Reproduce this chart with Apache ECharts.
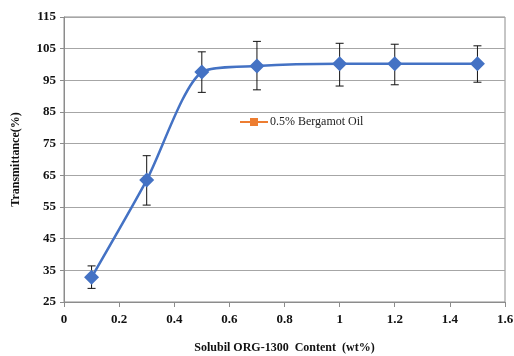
<!DOCTYPE html>
<html>
<head>
<meta charset="utf-8">
<script src="https://cdn.jsdelivr.net/npm/echarts@6/dist/echarts.min.js"></script>
<style>
  html, body { margin: 0; padding: 0; background: #fff; }
  #chart { width: 514px; height: 356px; }
</style>
</head>
<body>
<div id="chart"></div>
<script>
const contents = [0.1, 0.3, 0.5, 0.7, 1.0, 1.2, 1.5]
const transmittance = [32.8, 63.5, 97.6, 99.5, 100.2, 100.2, 100.2]
const errLow = [29.3, 55.6, 91.2, 92.0, 93.2, 93.6, 94.4]
const errHigh = [36.4, 71.2, 104.0, 107.3, 106.7, 106.4, 105.9]
const legendName = '0.5% Bergamot Oil'

const font = '"Liberation Serif", "Times New Roman", serif'
const chart = echarts.init(document.getElementById('chart'))

chart.setOption({
  animation: false,
  grid: {
    left: 64, right: 9, top: 17, bottom: 54,
    outerBoundsMode: 'none',
    show: true, borderColor: '#8c8c8c', borderWidth: 1
  },
  legend: {
    left: 234, top: 111,
    itemWidth: 28, itemHeight: 10,
    textStyle: { fontFamily: font, fontSize: 12, color: '#222', padding: [0, 0, 0, -3] },
    data: [legendName]
  },
  xAxis: {
    type: 'value', min: 0, max: 1.6, interval: 0.2,
    name: 'Solubil ORG-1300  Content  (wt%)',
    nameLocation: 'middle', nameGap: 40,
    nameTextStyle: { fontFamily: font, fontWeight: 'bold', fontSize: 12, color: '#111' },
    axisLine: { lineStyle: { color: '#8c8c8c' } },
    axisTick: { show: true, length: 5, lineStyle: { color: '#8c8c8c' } },
    axisLabel: { fontFamily: font, fontWeight: 'bold', fontSize: 13, color: '#111', margin: 11 },
    splitLine: { show: false }
  },
  yAxis: {
    type: 'value', min: 25, max: 115, interval: 10,
    name: 'Transmittance(%)',
    nameLocation: 'middle', nameGap: 42,
    nameTextStyle: { fontFamily: font, fontWeight: 'bold', fontSize: 12, color: '#111' },
    axisLine: { show: true, lineStyle: { color: '#8c8c8c' } },
    axisTick: { show: true, length: 4, lineStyle: { color: '#8c8c8c' } },
    axisLabel: { fontFamily: font, fontWeight: 'bold', fontSize: 13, color: '#111', margin: 8 },
    splitLine: { lineStyle: { color: '#a6a6a6', width: 1 } }
  },
  series: [
    {
      name: 'err',
      type: 'custom',
      z: 3,
      data: contents.map((x, i) => [x, errLow[i], errHigh[i]]),
      renderItem: (params, api) => {
        const lo = api.coord([api.value(0), api.value(1)])
        const hi = api.coord([api.value(0), api.value(2)])
        const w = 4
        const style = { stroke: '#111', lineWidth: 1 }
        return {
          type: 'group',
          children: [
            { type: 'line', shape: { x1: lo[0], y1: lo[1], x2: hi[0], y2: hi[1] }, style },
            { type: 'line', shape: { x1: lo[0] - w, y1: lo[1], x2: lo[0] + w, y2: lo[1] }, style },
            { type: 'line', shape: { x1: hi[0] - w, y1: hi[1], x2: hi[0] + w, y2: hi[1] }, style }
          ]
        }
      }
    },
    {
      name: 'main',
      type: 'line',
      z: 4,
      smooth: 0.25,
      data: contents.map((x, i) => [x, transmittance[i]]),
      symbol: 'diamond',
      symbolSize: 15,
      itemStyle: { color: '#4472c4' },
      lineStyle: { color: '#4472c4', width: 2.5 }
    },
    {
      name: legendName,
      type: 'line',
      data: [],
      symbol: 'rect',
      symbolSize: 8,
      itemStyle: { color: '#ed7d31' },
      lineStyle: { color: '#ed7d31', width: 2 }
    }
  ]
})
</script>
</body>
</html>
